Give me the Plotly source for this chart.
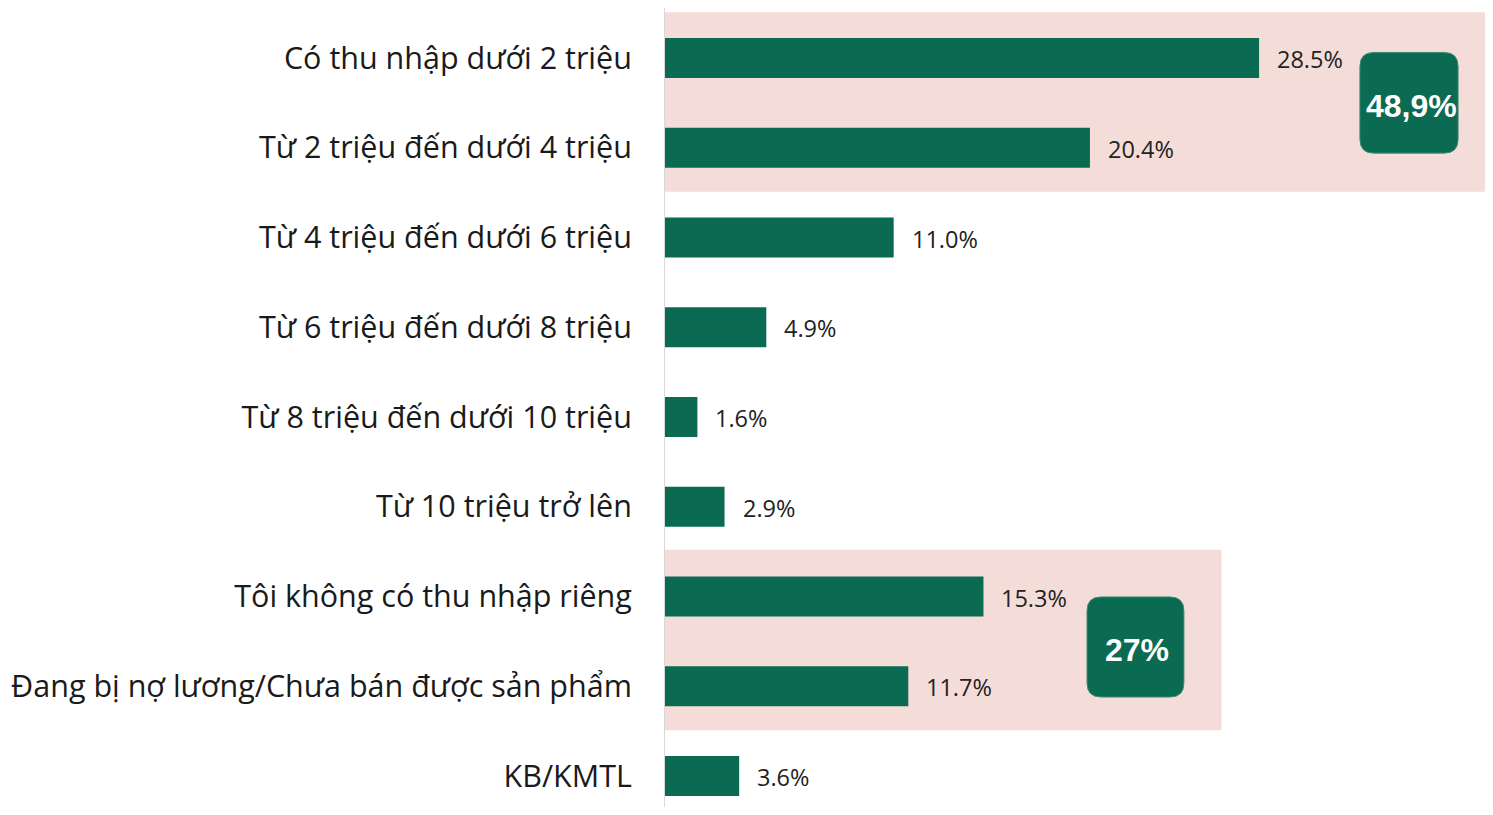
import plotly.graph_objects as go

categories = [
    "Có thu nhập dưới 2 triệu",
    "Từ 2 triệu đến dưới 4 triệu",
    "Từ 4 triệu đến dưới 6 triệu",
    "Từ 6 triệu đến dưới 8 triệu",
    "Từ 8 triệu đến dưới 10 triệu",
    "Từ 10 triệu trở lên",
    "Tôi không có thu nhập riêng",
    "Đang bị nợ lương/Chưa bán được sản phẩm",
    "KB/KMTL",
]
values = [28.5, 20.4, 11.0, 4.9, 1.6, 2.9, 15.3, 11.7, 3.6]
group_labels = ["48,9%", "27%"]

GREEN = "#0a6b52"
PINK = "#f4ddd9"

# page has an 8px body margin on every side; keep the figure inside the window
PAGE_OFF = 8
W, H = 1493 - 2 * PAGE_OFF, 815 - 2 * PAGE_OFF
X_LEFT = 664 - PAGE_OFF
PX_PER_UNIT_X = 20.88
ROW_PX = 89.75
FIRST_ROW_Y = 58 - PAGE_OFF

x_max = (W - X_LEFT) / PX_PER_UNIT_X
y_top = -FIRST_ROW_Y / ROW_PX
y_bot = y_top + H / ROW_PX

ypos = list(range(len(categories)))

fig = go.Figure()

# highlight bands behind the bars
fig.add_shape(type="rect", xref="x", yref="y", x0=-0.05, x1=x_max, y0=-0.51, y1=1.49,
              fillcolor=PINK, line_width=0, layer="below")
fig.add_shape(type="rect", xref="x", yref="y", x0=-0.05, x1=26.7, y0=5.48, y1=7.49,
              fillcolor=PINK, line_width=0, layer="below")


def rounded_box(x0, x1, y0, y1, r_px=14):
    rx = r_px / PX_PER_UNIT_X
    ry = r_px / ROW_PX
    return (f"M {x0 + rx},{y0} L {x1 - rx},{y0} Q {x1},{y0} {x1},{y0 + ry} "
            f"L {x1},{y1 - ry} Q {x1},{y1} {x1 - rx},{y1} "
            f"L {x0 + rx},{y1} Q {x0},{y1} {x0},{y1 - ry} "
            f"L {x0},{y0 + ry} Q {x0},{y0} {x0 + rx},{y0} Z")


boxes = [(33.33, 38.03, -0.062, 1.06), (20.26, 24.9, 6.005, 7.12)]
for (bx0, bx1, by0, by1), lab in zip(boxes, group_labels):
    fig.add_shape(type="path", path=rounded_box(bx0, bx1, by0, by1),
                  fillcolor=GREEN, line=dict(color="#3f8a72", width=1))
    fig.add_annotation(x=(bx0 + bx1) / 2, y=(by0 + by1) / 2, text=f"<b>{lab}</b>",
                       showarrow=False, xshift=2, yshift=-3,
                       font=dict(family="Liberation Sans", size=32, color="white"))

fig.add_trace(go.Bar(
    x=values, y=ypos, orientation="h",
    marker=dict(color=GREEN, line_width=0),
    width=0.445,
    hoverinfo="skip",
))

# value labels
for v, yp in zip(values, ypos):
    fig.add_annotation(x=v, y=yp, text=f"{v:.1f}%", showarrow=False,
                       xanchor="left", xshift=16, yshift=-1,
                       font=dict(family="Open Sans", size=23.5, color="#222222"))

# vertical axis line
fig.add_shape(type="line", xref="x", yref="paper", x0=0, x1=0, y0=0, y1=1,
              line=dict(color="#d9d9d9", width=2))

fig.update_layout(
    width=W, height=H,
    margin=dict(l=X_LEFT, r=0, t=0, b=0),
    plot_bgcolor="white", paper_bgcolor="white",
    showlegend=False,
    xaxis=dict(range=[0, x_max], visible=False),
    yaxis=dict(
        range=[y_bot, y_top],
        tickvals=ypos, ticktext=categories,
        tickfont=dict(family="Open Sans", size=30.5, color="#1a1a1a"),
        showgrid=False, zeroline=False, showline=False,
        ticks="outside", ticklen=25, tickcolor="rgba(0,0,0,0)",
    ),
)

fig.write_html("out.html")
